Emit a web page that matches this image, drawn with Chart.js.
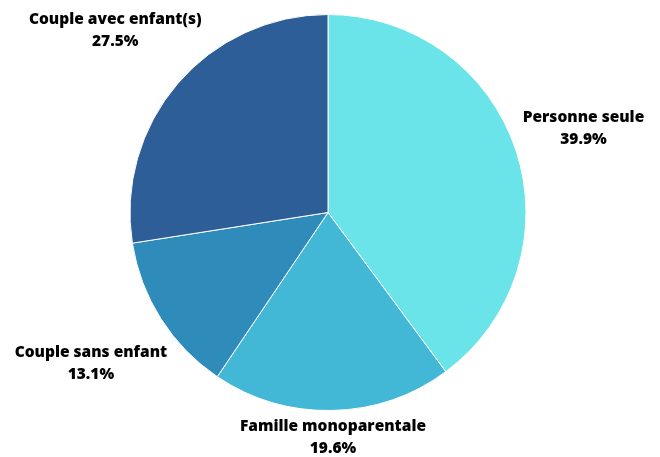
<!DOCTYPE html>
<html>
<head>
<meta charset="utf-8">
<script src="https://cdn.jsdelivr.net/npm/chart.js@4"></script>
<style>
  html, body { margin: 0; padding: 0; background: #fff; }
  #wrap { width: 660px; height: 457px; }
</style>
</head>
<body>
<div id="wrap"><canvas id="chart"></canvas></div>
<script>
var categories = ["Personne seule", "Famille monoparentale", "Couple sans enfant", "Couple avec enfant(s)"];
var shares = [39.9, 19.6, 13.1, 27.5];
var colors = ["#6ae4e8", "#43b7d6", "#2e8bba", "#2e5e98"];

// how far past the rim each label block is centred
var labelGap = [71, 27, 83, 82];

var outsideLabels = {
  id: "outsideLabels",
  afterDatasetsDraw: function (chart) {
    var ctx = chart.ctx;
    var meta = chart.getDatasetMeta(0);
    ctx.save();
    ctx.font = "800 15.5px 'Open Sans'";
    ctx.fillStyle = "#000";
    ctx.textAlign = "center";
    ctx.textBaseline = "middle";
    meta.data.forEach(function (arc, i) {
      var p = arc.getProps(["x", "y", "startAngle", "endAngle", "outerRadius"], true);
      var mid = (p.startAngle + p.endAngle) / 2;
      var r = p.outerRadius + labelGap[i];
      var x = p.x + Math.cos(mid) * r;
      var y = p.y + Math.sin(mid) * r;
      ctx.fillText(categories[i], x, y - 11);
      ctx.fillText(shares[i].toFixed(1) + "%", x, y + 11);
    });
    ctx.restore();
  }
};

new Chart(document.getElementById("chart"), {
  type: "pie",
  data: {
    labels: categories,
    datasets: [{
      data: shares,
      backgroundColor: colors,
      borderColor: "#ffffff",
      borderWidth: 1
    }]
  },
  options: {
    responsive: true,
    maintainAspectRatio: false,
    animation: false,
    layout: { padding: { top: 14, bottom: 46, left: 0, right: 4 } },
    plugins: {
      legend: { display: false },
      tooltip: { enabled: false }
    }
  },
  plugins: [outsideLabels]
});
</script>
</body>
</html>
